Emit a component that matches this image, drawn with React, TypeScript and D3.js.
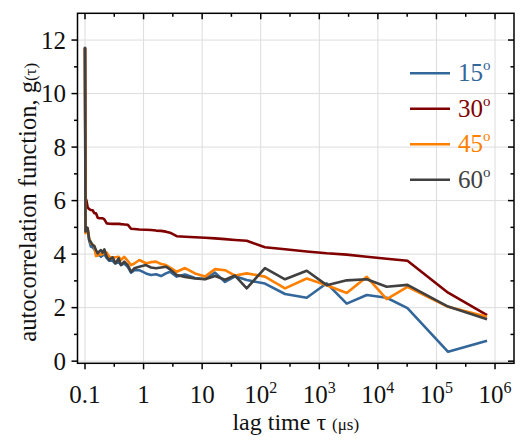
import React from "react";
import { scaleLog, scaleLinear, line } from "d3";

// lag times (µs), shared by every angle
const lagTime = [
  0.1, 0.102, 0.106, 0.111, 0.118, 0.126, 0.135, 0.144, 0.154, 0.165, 0.175,
  0.187, 0.2, 0.214, 0.235, 0.26, 0.297, 0.329, 0.376, 0.412, 0.469, 0.536,
  0.61, 0.695, 0.846, 1.1, 1.34, 1.63, 1.99, 2.41, 2.83, 3.68, 5.1, 7.55, 11.2,
  16.6, 24.6, 36.4, 57.7, 118, 260, 610, 1340, 2940, 6460, 14150, 32000,
  158000, 731000,
];

const g15 = [
  11.7, 4.85, 4.95, 4.9, 4.5, 4.28, 4.25, 4.2, 4.03, 3.95, 3.98, 3.9, 3.95, 4.0,
  3.85, 3.75, 3.75, 3.65, 3.7, 3.6, 3.65, 3.53, 3.31, 3.4, 3.4, 3.28, 3.22,
  3.25, 3.18, 3.28, 3.34, 3.16, 3.24, 3.11, 3.07, 3.31, 2.96, 3.17, 3.03, 2.9,
  2.51, 2.37, 2.91, 2.15, 2.47, 2.37, 1.98, 0.35, 0.76,
];
const g30 = [
  11.7, 6.1, 6.0, 5.75, 5.68, 5.65, 5.64, 5.53, 5.53, 5.36, 5.34, 5.34, 5.34,
  5.3, 5.15, 5.14, 5.13, 5.13, 5.13, 5.12, 5.11, 5.1, 4.95, 4.94, 4.92, 4.91,
  4.9, 4.88, 4.87, 4.84, 4.8, 4.67, 4.65, 4.63, 4.61, 4.59, 4.56, 4.53, 4.5,
  4.26, 4.18, 4.1, 4.03, 3.98, 3.9, 3.83, 3.75, 2.56, 1.72,
];
const g45 = [
  11.7, 4.78, 4.97, 4.97, 4.6, 4.4, 4.35, 4.3, 3.93, 3.95, 4.03, 3.98, 4.0,
  4.09, 4.05, 3.9, 3.86, 3.88, 3.9, 3.78, 3.9, 3.75, 3.59, 3.65, 3.78, 3.66,
  3.7, 3.72, 3.63, 3.59, 3.5, 3.34, 3.48, 3.28, 3.16, 3.44, 3.4, 3.2, 3.28,
  3.16, 2.72, 3.09, 2.84, 2.55, 3.15, 2.32, 2.78, 2.03, 1.66,
];
const g60 = [
  11.75, 4.85, 5.0, 4.97, 4.53, 4.45, 4.34, 4.3, 4.15, 4.03, 4.1, 4.15, 4.05,
  4.18, 3.9, 3.78, 3.88, 3.66, 3.84, 3.59, 3.72, 3.59, 3.34, 3.47, 3.53, 3.59,
  3.5, 3.47, 3.5, 3.53, 3.43, 3.22, 3.15, 3.09, 3.06, 3.18, 3.04, 3.2, 2.72,
  3.48, 3.06, 3.38, 2.84, 3.02, 3.06, 2.78, 2.85, 2.04, 1.57,
];

const angles = ["15", "30", "45", "60"];
const colors = ["#336699", "#800000", "#ff8000", "#404040"];

const xTicks = [0.1, 1, 10, 100, 1e3, 1e4, 1e5, 1e6];
const xTickBase = ["0.1", "1", "10", "10", "10", "10", "10", "10"];
const xTickExp = ["", "", "", "2", "3", "4", "5", "6"];
const xMinor = [0.316, 3.16, 31.6, 316, 3162, 31623, 316228];
const yTicks = [0, 2, 4, 6, 8, 10, 12];
const yMinor = [1, 3, 5, 7, 9, 11];

const W = 532;
const H = 440;
const L = 77.5;
const R = 514;
const T = 13.3;
const B = 363.3;
const FONT = "'Liberation Serif', 'DejaVu Serif', serif";

export default function App() {
  const x = scaleLog().domain([Math.pow(10, -1.128), Math.pow(10, 6.324)]).range([L, R]);
  const y = scaleLinear().domain([-0.08, 13.0]).range([B, T]);

  const series = [g15, g30, g45, g60].map((vals, i) => ({
    name: angles[i],
    color: colors[i],
    points: lagTime.map((t, j) => [t, vals[j]] as [number, number]),
  }));

  const path = line<[number, number]>()
    .x((d) => x(d[0]))
    .y((d) => y(d[1]));

  return (
    <svg
      width={W}
      height={H}
      style={{ position: "absolute", left: 0, top: 0, background: "#fff" }}
      fontFamily={FONT}
    >
      {/* grid */}
      <g stroke="#dddddd" strokeWidth={1}>
        {xTicks.map((t) => (
          <line key={"gx" + t} x1={x(t)} x2={x(t)} y1={T} y2={B} />
        ))}
        {yTicks.map((t) => (
          <line key={"gy" + t} x1={L} x2={R} y1={y(t)} y2={y(t)} />
        ))}
      </g>

      {/* curves */}
      <g fill="none" strokeWidth={2.6} strokeLinejoin="round">
        {series.map((s) => (
          <path key={s.name} d={path(s.points) || ""} stroke={s.color} />
        ))}
      </g>

      {/* frame + ticks */}
      <g stroke="#000" strokeWidth={1.5}>
        <rect x={L} y={T} width={R - L} height={B - T} fill="none" />
        {xTicks.map((t) => (
          <g key={"tx" + t}>
            <line x1={x(t)} x2={x(t)} y1={B} y2={B + 6} />
            <line x1={x(t)} x2={x(t)} y1={T} y2={T + 6} />
          </g>
        ))}
        {xMinor.map((t) => (
          <g key={"mx" + t}>
            <line x1={x(t)} x2={x(t)} y1={B} y2={B + 3.5} />
            <line x1={x(t)} x2={x(t)} y1={T} y2={T + 3.5} />
          </g>
        ))}
        {yTicks.map((t) => (
          <g key={"ty" + t}>
            <line x1={L - 6} x2={L} y1={y(t)} y2={y(t)} />
            <line x1={R - 6} x2={R} y1={y(t)} y2={y(t)} />
          </g>
        ))}
        {yMinor.map((t) => (
          <g key={"my" + t}>
            <line x1={L - 3.5} x2={L} y1={y(t)} y2={y(t)} />
            <line x1={R - 3.5} x2={R} y1={y(t)} y2={y(t)} />
          </g>
        ))}
      </g>

      {/* tick labels */}
      <g fontSize={25} fill="#111">
        {xTicks.map((t, i) => (
          <text key={"lx" + t} x={x(t)} y={403} textAnchor="middle">
            {xTickBase[i]}
            {xTickExp[i] && (
              <tspan fontSize={16} dy={-10}>
                {xTickExp[i]}
              </tspan>
            )}
          </text>
        ))}
        {yTicks.map((t) => (
          <text key={"ly" + t} x={66} y={y(t) + 8.5} textAnchor="end">
            {t}
          </text>
        ))}
      </g>

      {/* axis titles */}
      <text x={(L + R) / 2} y={430} textAnchor="middle" fontSize={24} fill="#111">
        lag time τ <tspan fontSize={17}>(μs)</tspan>
      </text>
      <text
        transform={`translate(36,${(T + B) / 2 + 14}) rotate(-90)`}
        textAnchor="middle"
        fontSize={24.5}
        fill="#111"
      >
        autocorrelation function, g<tspan fontSize={17}>(τ)</tspan>
      </text>

      {/* legend */}
      <g>
        {series.map((s, i) => {
          const ly = 73.3 + i * 35.5;
          return (
            <g key={"leg" + s.name}>
              <line x1={410} x2={450} y1={ly} y2={ly} stroke={s.color} strokeWidth={2.6} />
              <text x={458} y={ly + 8} fontSize={25} fill={s.color}>
                {s.name}
                <tspan fontSize={15} dy={-11}>
                  o
                </tspan>
              </text>
            </g>
          );
        })}
      </g>
    </svg>
  );
}
